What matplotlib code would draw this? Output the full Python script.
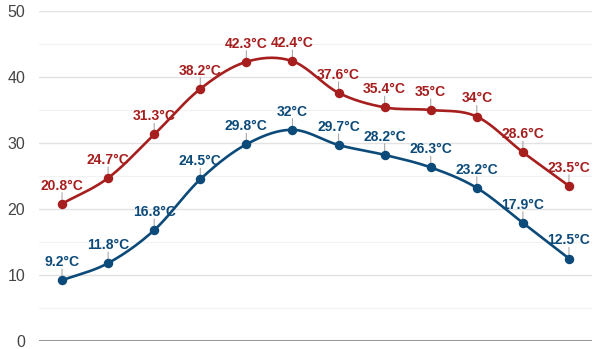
import matplotlib
matplotlib.use("Agg")
import matplotlib.pyplot as plt
import numpy as np

months = list(range(12))
max_temps = [20.8, 24.7, 31.3, 38.2, 42.3, 42.4, 37.6, 35.4, 35.0, 34.0, 28.6, 23.5]
min_temps = [9.2, 11.8, 16.8, 24.5, 29.8, 32.0, 29.7, 28.2, 26.3, 23.2, 17.9, 12.5]

red = "#a61e1e"
blue = "#0c4a79"


def smooth(xs, ys, n=20):
    # Catmull-Rom spline pour un tracé lissé
    xs = np.asarray(xs, float)
    ys = np.asarray(ys, float)
    px = np.concatenate([[2 * xs[0] - xs[1]], xs, [2 * xs[-1] - xs[-2]]])
    py = np.concatenate([[2 * ys[0] - ys[1]], ys, [2 * ys[-1] - ys[-2]]])
    out_x, out_y = [], []
    t = np.linspace(0, 1, n, endpoint=False)
    for i in range(1, len(px) - 2):
        for arr, out in ((px, out_x), (py, out_y)):
            p0, p1, p2, p3 = arr[i - 1], arr[i], arr[i + 1], arr[i + 2]
            out.extend(0.5 * ((2 * p1) + (-p0 + p2) * t
                              + (2 * p0 - 5 * p1 + 4 * p2 - p3) * t ** 2
                              + (-p0 + 3 * p1 - 3 * p2 + p3) * t ** 3))
    out_x.append(xs[-1])
    out_y.append(ys[-1])
    return out_x, out_y


def fmt(v):
    return f"{v:g}°C"


fig = plt.figure(figsize=(6.01, 3.49), dpi=100)
ax = fig.add_axes([39 / 601, 1 - 341 / 349, 553 / 601, 330 / 349])

for y in range(5, 50, 10):
    ax.axhline(y, color="#f2f2f2", lw=0.8, zorder=0)
for y in range(10, 51, 10):
    ax.axhline(y, color="#e2e2e2", lw=1.0, zorder=0)
ax.axhline(0, color="#999999", lw=2.2, zorder=1)

for data, col in ((max_temps, red), (min_temps, blue)):
    sx, sy = smooth(months, data)
    ax.plot(sx, sy, color=col, lw=1.9, zorder=3)
    ax.plot(months, data, "o", color=col, ms=5.8, zorder=4)
    for x, v in zip(months, data):
        ax.annotate("", xy=(x, v), xytext=(0, 8), textcoords="offset points",
                    arrowprops=dict(arrowstyle="-", color="#aaaaaa", lw=0.8,
                                    shrinkA=0, shrinkB=0), zorder=2)
        ax.annotate(fmt(v), xy=(x, v), xytext=(0, 8), textcoords="offset points",
                    ha="center", va="bottom", color=col, fontsize=10,
                    fontweight="bold", family="Liberation Sans", zorder=5)

ax.set_xlim(-0.5, 11.5)
ax.set_ylim(0, 50)
ax.set_yticks(range(0, 51, 10))
ax.set_xticks([])
for s in ax.spines.values():
    s.set_visible(False)
ax.tick_params(axis="y", length=0, pad=10, labelsize=11.5, labelcolor="#444444")
for lbl in ax.get_yticklabels():
    lbl.set_family("Liberation Sans")

fig.savefig("out.png", dpi=100)
